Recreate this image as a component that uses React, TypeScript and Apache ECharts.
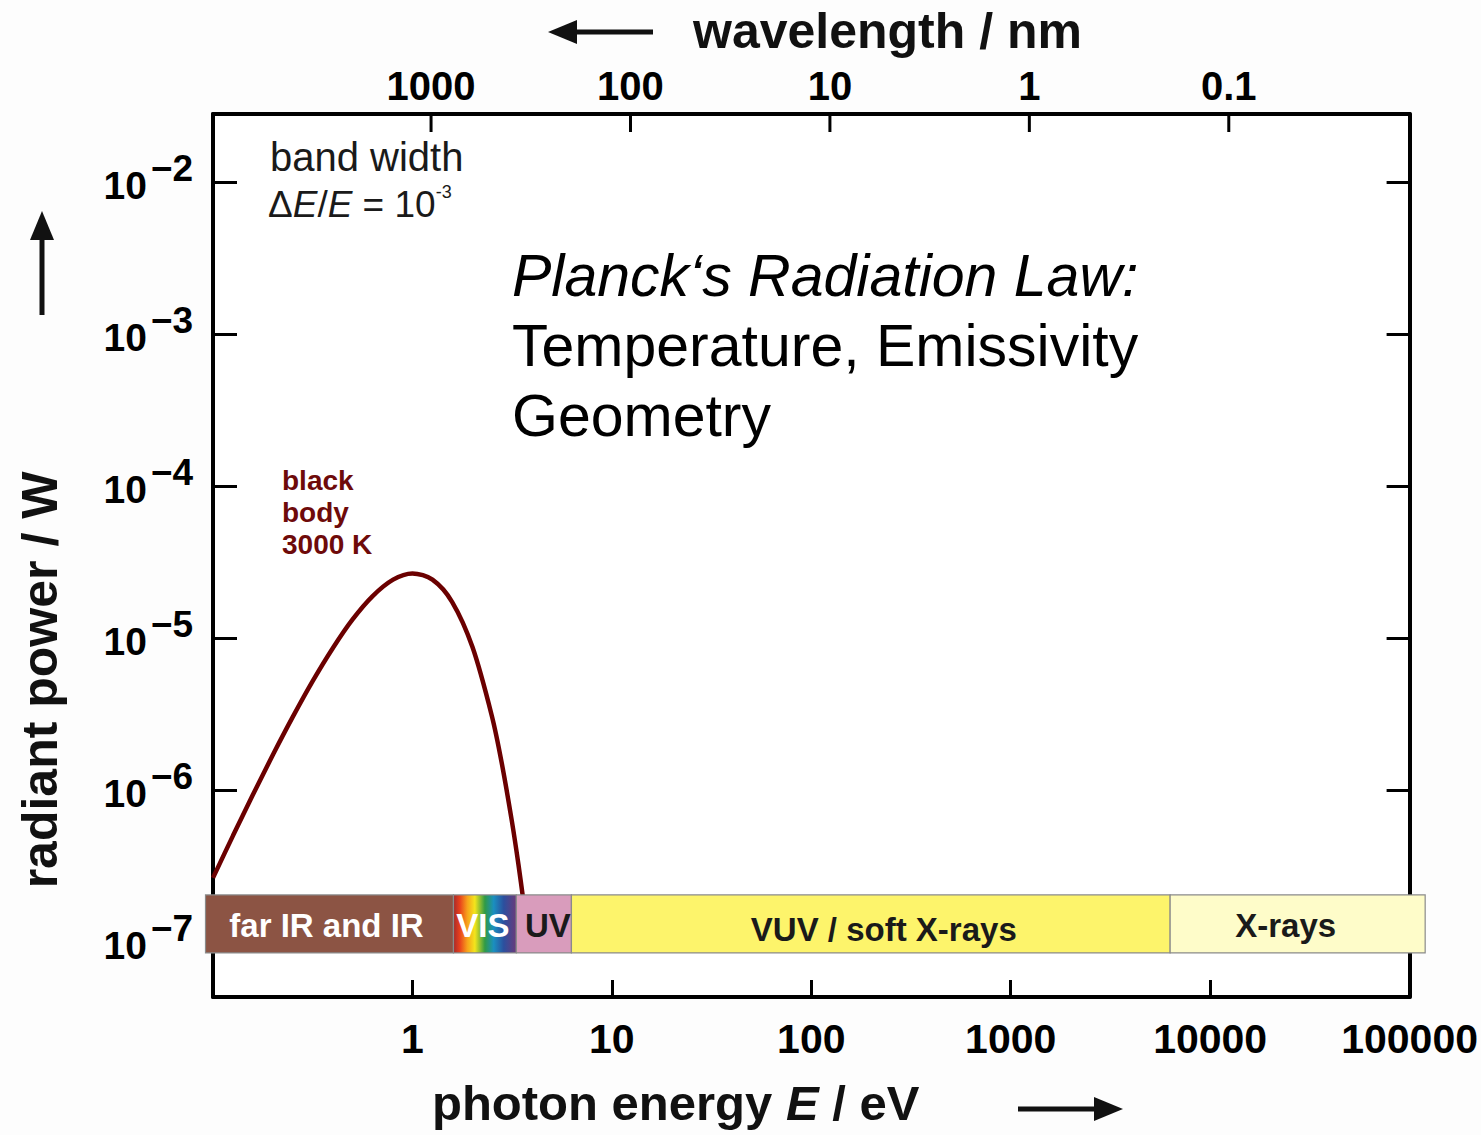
import React, { useEffect, useRef } from 'react';
import * as echarts from 'echarts';

// ---- data ----
// black body 3000 K curve: photon energy (eV) and radiant power (W)
const energyEV = [0.1, 0.126, 0.158, 0.2, 0.25, 0.316, 0.4, 0.5, 0.63, 0.8, 1.0, 1.26, 1.58, 2.0, 2.5, 2.8, 3.16, 3.4, 3.62];
const powerW = [2.64e-7, 5.01e-7, 9.23e-7, 1.71e-6, 2.99e-6, 5.2e-6, 8.63e-6, 1.32e-5, 1.88e-5, 2.42e-5, 2.66e-5, 2.42e-5, 1.73e-5, 8.71e-6, 3.08e-6, 1.52e-6, 6.11e-7, 3.24e-7, 1.77e-7];

// spectral bands (eV)
const bandNames = ['far IR and IR', 'VIS', 'UV', 'VUV / soft X-rays', 'X-rays'];
const bandStartEV = [0.0917, 1.606, 3.32, 6.27, 6300];
const bandEndEV = [1.606, 3.32, 6.27, 6300, 119700];
const bandPowerTop = 2.04e-7;
const bandPowerBottom = 8.47e-8;

// tick values
const wavelengthTicksNm = [1000, 100, 10, 1, 0.1];
const powerTicksW = [1e-2, 1e-3, 1e-4, 1e-5, 1e-6, 1e-7];

// axis ranges
const E_MIN = 0.1;
const E_MAX = 100000;
const P_MIN = 4.345e-8;
const P_MAX = 0.028;
const HC = 1239.84; // eV nm

// ---- styles ----
const FONT = '"Liberation Sans", Arial, Helvetica, sans-serif';
const bandFills = ['#8c5444', null, '#d99cbc', '#fdf46b', '#fefcc9'];
const bandTextColors = ['#ffffff', '#ffffff', '#1a1a1a', '#1a1a1a', '#1a1a1a'];
const bandLabelDx = [-3, -2, 4, 13, -12];
const bandLabelDy = [0, 0, 0, 4, 0];

export default function App() {
  const ref = useRef<HTMLDivElement>(null);

  useEffect(() => {
    if (!ref.current) return;
    const chart = echarts.init(ref.current, undefined, { renderer: 'svg' });

    const rainbow = new echarts.graphic.LinearGradient(0, 0, 1, 0, [
      { offset: 0, color: '#a52a2a' },
      { offset: 0.1, color: '#e8401c' },
      { offset: 0.22, color: '#f7a21b' },
      { offset: 0.34, color: '#f3e51c' },
      { offset: 0.5, color: '#2f9a46' },
      { offset: 0.64, color: '#1a8fc0' },
      { offset: 0.8, color: '#2c4f9e' },
      { offset: 1, color: '#6b3a7a' },
    ]);

    const axisLineStyle = { color: '#000', width: 4 };
    const tickStyle = { color: '#000', width: 3 };

    const option: any = {
      animation: false,
      backgroundColor: '#fdfdfd',
      grid: { left: 213, top: 114, width: 1197, height: 883, show: true, backgroundColor: '#ffffff', borderWidth: 0 },
      xAxis: [
        {
          type: 'log', logBase: 10, min: E_MIN, max: E_MAX, position: 'bottom',
          axisLine: { show: true, onZero: false, lineStyle: axisLineStyle },
          axisTick: { show: true, inside: true, length: 17, lineStyle: tickStyle },
          axisLabel: {
            show: true, margin: 21, color: '#000', fontFamily: FONT, fontSize: 41, fontWeight: 'bold',
            showMinLabel: false, showMaxLabel: true,
            formatter: (v: number) => (v < 0.5 ? '' : String(Math.round(v))),
          },
          splitLine: { show: false }, minorTick: { show: false },
        },
        {
          type: 'log', logBase: 10, min: HC / E_MAX, max: HC / E_MIN, inverse: true, position: 'top',
          axisLine: { show: true, onZero: false, lineStyle: axisLineStyle },
          axisTick: { show: false }, axisLabel: { show: false },
          splitLine: { show: false }, minorTick: { show: false },
        },
      ],
      yAxis: [
        {
          type: 'log', logBase: 10, min: P_MIN, max: P_MAX, position: 'left',
          axisLine: { show: true, onZero: false, lineStyle: axisLineStyle },
          axisTick: { show: true, inside: true, length: 24, lineStyle: tickStyle },
          axisLabel: { show: false },
          splitLine: { show: false }, minorTick: { show: false },
        },
        {
          type: 'log', logBase: 10, min: P_MIN, max: P_MAX, position: 'right',
          axisLine: { show: true, onZero: false, lineStyle: axisLineStyle },
          axisTick: { show: true, inside: true, length: 23, lineStyle: tickStyle },
          axisLabel: { show: false },
          splitLine: { show: false }, minorTick: { show: false },
        },
      ],
      series: [
        {
          type: 'line', name: 'black body 3000 K', xAxisIndex: 0, yAxisIndex: 0,
          data: energyEV.map((e, i) => [e, powerW[i]]),
          smooth: 0.3, showSymbol: false, symbol: 'none',
          lineStyle: { color: '#6b0000', width: 4.5 }, z: 2,
        },
        {
          type: 'custom', name: 'bands', xAxisIndex: 0, yAxisIndex: 0, clip: false, z: 5,
          data: bandStartEV.map((s, i) => [s, bandEndEV[i], bandPowerTop, bandPowerBottom]),
          encode: { x: [0, 1], y: [2, 3] },
          renderItem: (params: any, api: any) => {
            const i = params.dataIndex;
            const p0 = api.coord([api.value(0), api.value(2)]);
            const p1 = api.coord([api.value(1), api.value(3)]);
            const x = p0[0];
            const y = p0[1];
            const w = p1[0] - p0[0];
            const h = p1[1] - p0[1];
            return {
              type: 'group',
              children: [
                { type: 'rect', shape: { x, y, width: w, height: h }, style: { fill: i === 1 ? rainbow : bandFills[i], stroke: '#8a8a8a', lineWidth: 1.2 } },
                {
                  type: 'text', x: x + w / 2 + bandLabelDx[i], y: y + h / 2 + 2 + bandLabelDy[i],
                  style: { text: bandNames[i], fill: bandTextColors[i], fontFamily: FONT, fontSize: 33, fontWeight: 'bold', align: 'center', verticalAlign: 'middle' },
                },
              ],
            };
          },
        },
        {
          type: 'custom', name: 'wavelength ticks', xAxisIndex: 1, yAxisIndex: 0, clip: false, z: 5,
          data: wavelengthTicksNm.map((w) => [w, P_MAX]),
          encode: { x: 0, y: 1 },
          renderItem: (params: any, api: any) => {
            const pt = api.coord([api.value(0), api.value(1)]);
            const top = params.coordSys.y;
            const v = api.value(0);
            return {
              type: 'group',
              children: [
                { type: 'line', shape: { x1: pt[0], y1: top, x2: pt[0], y2: top + 18 }, style: { stroke: '#000', lineWidth: 3 } },
                {
                  type: 'text', x: pt[0], y: top - 28,
                  style: { text: String(v), fill: '#000', fontFamily: FONT, fontSize: 40, fontWeight: 'bold', align: 'center', verticalAlign: 'middle' },
                },
              ],
            };
          },
        },
        {
          type: 'custom', name: 'power tick labels', xAxisIndex: 0, yAxisIndex: 0, clip: false, z: 5,
          data: powerTicksW.map((p) => [E_MIN, p]),
          encode: { x: 0, y: 1 },
          renderItem: (params: any, api: any) => {
            const pt = api.coord([api.value(0), api.value(1)]);
            const left = params.coordSys.x;
            const exp = Math.round(Math.log10(api.value(1)));
            return {
              type: 'group',
              children: [
                {
                  type: 'text', x: left - 66, y: pt[1] + 4,
                  style: { text: '10', fill: '#000', fontFamily: FONT, fontSize: 39, fontWeight: 'bold', align: 'right', verticalAlign: 'middle' },
                },
                {
                  type: 'text', x: left - 62, y: pt[1] - 13,
                  style: { text: '\u2212' + String(-exp), fill: '#000', fontFamily: FONT, fontSize: 37, fontWeight: 'bold', align: 'left', verticalAlign: 'middle' },
                },
              ],
            };
          },
        },
      ],
      graphic: [
        // top title + arrow
        { type: 'text', x: 693, y: 31, style: { text: 'wavelength / nm', fill: '#111', fontFamily: FONT, fontSize: 50, fontWeight: 'bold', align: 'left', verticalAlign: 'middle' } },
        { type: 'line', shape: { x1: 574, y1: 32, x2: 653, y2: 32 }, style: { stroke: '#111', lineWidth: 5 } },
        { type: 'polygon', shape: { points: [[548, 32], [577, 20], [577, 44]] }, style: { fill: '#111' } },
        // bottom title + arrow
        {
          type: 'text', x: 432, y: 1103,
          style: {
            text: '{n|photon energy }{i|E}{n| / eV}', align: 'left', verticalAlign: 'middle',
            rich: {
              n: { fontFamily: FONT, fontSize: 49, fontWeight: 'bold', fill: '#111' },
              i: { fontFamily: FONT, fontSize: 49, fontWeight: 'bold', fontStyle: 'italic', fill: '#111' },
            },
          },
        },
        { type: 'line', shape: { x1: 1018, y1: 1109, x2: 1098, y2: 1109 }, style: { stroke: '#111', lineWidth: 5 } },
        { type: 'polygon', shape: { points: [[1123, 1109], [1094, 1097], [1094, 1121]] }, style: { fill: '#111' } },
        // y title + arrow
        { type: 'text', x: 40, y: 680, rotation: Math.PI / 2, style: { text: 'radiant power / W', fill: '#111', fontFamily: FONT, fontSize: 50, fontWeight: 'bold', align: 'center', verticalAlign: 'middle' } },
        { type: 'line', shape: { x1: 42, y1: 236, x2: 42, y2: 315 }, style: { stroke: '#111', lineWidth: 5 } },
        { type: 'polygon', shape: { points: [[42, 211], [30, 240], [54, 240]] }, style: { fill: '#111' } },
        // band width note
        { type: 'text', x: 270, y: 157, style: { text: 'band width', fill: '#1a1a1a', fontFamily: FONT, fontSize: 40, align: 'left', verticalAlign: 'middle' } },
        {
          type: 'text', x: 268, y: 203,
          style: {
            text: '{n|\u0394}{i|E}{n|/}{i|E}{n| = 10}{s|-3}', align: 'left', verticalAlign: 'middle',
            rich: {
              n: { fontFamily: FONT, fontSize: 37, fill: '#1a1a1a', lineHeight: 40, verticalAlign: 'bottom' },
              i: { fontFamily: FONT, fontSize: 37, fontStyle: 'italic', fill: '#1a1a1a', lineHeight: 40, verticalAlign: 'bottom' },
              s: { fontFamily: FONT, fontSize: 18, fill: '#1a1a1a', lineHeight: 20, verticalAlign: 'top' },
            },
          },
        },
        // Planck text
        { type: 'text', x: 512, y: 276, style: { text: 'Planck\u2018s Radiation Law:', fill: '#000', fontFamily: FONT, fontSize: 59, fontStyle: 'italic', align: 'left', verticalAlign: 'middle' } },
        { type: 'text', x: 512, y: 346, style: { text: 'Temperature, Emissivity', fill: '#000', fontFamily: FONT, fontSize: 59, align: 'left', verticalAlign: 'middle' } },
        { type: 'text', x: 512, y: 416, style: { text: 'Geometry', fill: '#000', fontFamily: FONT, fontSize: 59, align: 'left', verticalAlign: 'middle' } },
        // black body label
        { type: 'text', x: 282, y: 464, style: { text: 'black\nbody\n3000 K', fill: '#6e0a0a', fontFamily: FONT, fontSize: 28, fontWeight: 'bold', lineHeight: 32, align: 'left', verticalAlign: 'top' } },
      ],
    };

    chart.setOption(option);
    return () => chart.dispose();
  }, []);

  return <div ref={ref} style={{ position: 'absolute', left: 0, top: 0, width: 1481, height: 1135 }} />;
}
